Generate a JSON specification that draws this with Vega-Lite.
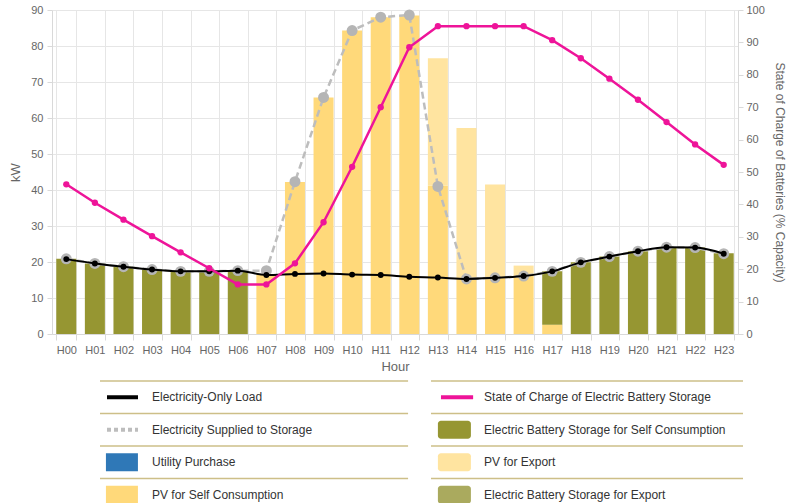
{
  "$schema": "https://vega.github.io/schema/vega-lite/v6.json",
  "background": "white",
  "padding": {"left": 9, "top": 4, "right": 0, "bottom": 0},
  "config": {
    "font": "Liberation Sans",
    "view": {"stroke": null},
    "axis": {
      "labelColor": "#666666",
      "titleColor": "#666666",
      "labelFontSize": 11,
      "titleFontSize": 13,
      "titleFontWeight": "normal",
      "gridColor": "#e6e6e6",
      "domainColor": "#d9d9d9",
      "tickColor": "#d9d9d9",
      "labelOverlap": false
    }
  },
  "datasets": {
    "bars": [
      {"hour": "H00", "series": "Electric Battery Storage for Self Consumption", "kW": 20.9},
      {"hour": "H01", "series": "Electric Battery Storage for Self Consumption", "kW": 19.6},
      {"hour": "H02", "series": "Electric Battery Storage for Self Consumption", "kW": 18.7},
      {"hour": "H03", "series": "Electric Battery Storage for Self Consumption", "kW": 17.9},
      {"hour": "H04", "series": "Electric Battery Storage for Self Consumption", "kW": 17.4},
      {"hour": "H05", "series": "Electric Battery Storage for Self Consumption", "kW": 17.4},
      {"hour": "H06", "series": "Electric Battery Storage for Self Consumption", "kW": 17.6},
      {"hour": "H07", "series": "PV for Self Consumption", "kW": 16.6},
      {"hour": "H08", "series": "PV for Self Consumption", "kW": 42.2},
      {"hour": "H09", "series": "PV for Self Consumption", "kW": 65.7},
      {"hour": "H10", "series": "PV for Self Consumption", "kW": 84.3},
      {"hour": "H11", "series": "PV for Self Consumption", "kW": 88.0},
      {"hour": "H12", "series": "PV for Self Consumption", "kW": 88.5},
      {"hour": "H13", "series": "PV for Self Consumption", "kW": 41.2},
      {"hour": "H13", "series": "PV for Export", "kW": 35.4},
      {"hour": "H14", "series": "PV for Self Consumption", "kW": 15.5},
      {"hour": "H14", "series": "PV for Export", "kW": 41.7},
      {"hour": "H15", "series": "PV for Self Consumption", "kW": 15.6},
      {"hour": "H15", "series": "PV for Export", "kW": 25.9},
      {"hour": "H16", "series": "PV for Self Consumption", "kW": 16.1},
      {"hour": "H16", "series": "PV for Export", "kW": 2.9},
      {"hour": "H17", "series": "PV for Self Consumption", "kW": 2.6},
      {"hour": "H17", "series": "Electric Battery Storage for Self Consumption", "kW": 14.8},
      {"hour": "H18", "series": "Electric Battery Storage for Self Consumption", "kW": 19.9},
      {"hour": "H19", "series": "Electric Battery Storage for Self Consumption", "kW": 21.5},
      {"hour": "H20", "series": "Electric Battery Storage for Self Consumption", "kW": 23.0},
      {"hour": "H21", "series": "Electric Battery Storage for Self Consumption", "kW": 24.1},
      {"hour": "H22", "series": "Electric Battery Storage for Self Consumption", "kW": 24.0},
      {"hour": "H23", "series": "Electric Battery Storage for Self Consumption", "kW": 22.4}
    ],
    "lines": [
      {"hour": "H00", "load": 20.8, "storage": 20.9, "soc": 46.2},
      {"hour": "H01", "load": 19.6, "storage": 19.6, "soc": 40.5},
      {"hour": "H02", "load": 18.7, "storage": 18.7, "soc": 35.3},
      {"hour": "H03", "load": 17.9, "storage": 17.9, "soc": 30.2},
      {"hour": "H04", "load": 17.4, "storage": 17.4, "soc": 25.2},
      {"hour": "H05", "load": 17.4, "storage": 17.4, "soc": 20.3},
      {"hour": "H06", "load": 17.6, "storage": 17.6, "soc": 15.3},
      {"hour": "H07", "load": 16.4, "storage": 17.6, "soc": 15.3},
      {"hour": "H08", "load": 16.7, "storage": 42.3, "soc": 21.8},
      {"hour": "H09", "load": 16.8, "storage": 65.7, "soc": 34.5},
      {"hour": "H10", "load": 16.5, "storage": 84.3, "soc": 51.6},
      {"hour": "H11", "load": 16.4, "storage": 88.0, "soc": 70.0},
      {"hour": "H12", "load": 15.9, "storage": 88.6, "soc": 88.5},
      {"hour": "H13", "load": 15.7, "storage": 41.0, "soc": 95.0},
      {"hour": "H14", "load": 15.3, "storage": 15.3, "soc": 95.0},
      {"hour": "H15", "load": 15.6, "storage": 15.6, "soc": 95.0},
      {"hour": "H16", "load": 16.1, "storage": 16.1, "soc": 95.0},
      {"hour": "H17", "load": 17.4, "storage": 17.4, "soc": 90.7},
      {"hour": "H18", "load": 19.9, "storage": 19.9, "soc": 85.1},
      {"hour": "H19", "load": 21.5, "storage": 21.5, "soc": 78.8},
      {"hour": "H20", "load": 23.0, "storage": 23.0, "soc": 72.3},
      {"hour": "H21", "load": 24.1, "storage": 24.1, "soc": 65.4},
      {"hour": "H22", "load": 24.0, "storage": 24.0, "soc": 58.5},
      {"hour": "H23", "load": 22.3, "storage": 22.3, "soc": 52.2}
    ],
    "legendLeft": [
      {"label": "Electricity-Only Load", "row": 1},
      {"label": "Electricity Supplied to Storage", "row": 2},
      {"label": "Utility Purchase", "row": 3},
      {"label": "PV for Self Consumption", "row": 4}
    ],
    "legendRight": [
      {"label": "State of Charge of Electric Battery Storage", "row": 1},
      {"label": "Electric Battery Storage for Self Consumption", "row": 2},
      {"label": "PV for Export", "row": 3},
      {"label": "Electric Battery Storage for Export", "row": 4}
    ]
  },
  "vconcat": [
    {
      "width": 686,
      "height": 324,
      "layer": [
        {
          "encoding": {
            "x": {
              "field": "hour", "type": "ordinal", "title": "Hour",
              "scale": {"paddingInner": 0.3, "paddingOuter": 0.15},
              "axis": {"labelAngle": 0, "grid": true, "tickBand": "extent", "tickSize": 6, "labelPadding": 4, "titlePadding": 5, "labelFontSize": 11}
            }
          },
          "layer": [
            {
              "data": {"name": "bars"},
              "mark": {"type": "bar", "opacity": 1},
              "encoding": {
                "y": {
                  "field": "kW", "type": "quantitative", "stack": "zero", "title": "kW",
                  "scale": {"domain": [0, 90]},
                  "axis": {"title": "kW", "values": [0, 10, 20, 30, 40, 50, 60, 70, 80, 90], "tickCount": 10, "labelOverlap": false, "tickSize": 5, "labelPadding": 4, "titlePadding": 8}
                },
                "color": {
                  "field": "series", "type": "nominal", "legend": null,
                  "scale": {
                    "domain": ["Electricity-Only Load", "Electricity Supplied to Storage", "Utility Purchase", "PV for Self Consumption", "State of Charge of Electric Battery Storage", "Electric Battery Storage for Self Consumption", "PV for Export", "Electric Battery Storage for Export"],
                    "range": ["#000000", "#bdbdbd", "#2f78b7", "#ffd97a", "#ee1499", "#969632", "#ffe4a0", "#aaaa5e"]
                  }
                },
                "order": {"field": "series", "sort": "descending"}
              }
            },
            {
              "data": {"name": "lines"},
              "mark": {"type": "line", "color": "#bdbdbd", "strokeWidth": 2.5, "strokeDash": [7, 4]},
              "encoding": {
                "y": {"field": "storage", "type": "quantitative", "title": "kW", "scale": {"domain": [0, 90]},
                  "axis": {"title": "kW", "values": [0, 10, 20, 30, 40, 50, 60, 70, 80, 90], "tickCount": 10, "labelOverlap": false, "tickSize": 5, "labelPadding": 4, "titlePadding": 8}}
              }
            },
            {
              "data": {"name": "lines"},
              "mark": {"type": "point", "filled": true, "color": "#b5b5b5", "opacity": 1, "size": 120},
              "encoding": {
                "y": {"field": "storage", "type": "quantitative", "title": "kW", "scale": {"domain": [0, 90]},
                  "axis": {"title": "kW", "values": [0, 10, 20, 30, 40, 50, 60, 70, 80, 90], "tickCount": 10, "labelOverlap": false, "tickSize": 5, "labelPadding": 4, "titlePadding": 8}}
              }
            },
            {
              "data": {"name": "lines"},
              "mark": {"type": "line", "color": "#000000", "strokeWidth": 2, "interpolate": "monotone"},
              "encoding": {
                "y": {"field": "load", "type": "quantitative", "title": "kW", "scale": {"domain": [0, 90]},
                  "axis": {"title": "kW", "values": [0, 10, 20, 30, 40, 50, 60, 70, 80, 90], "tickCount": 10, "labelOverlap": false, "tickSize": 5, "labelPadding": 4, "titlePadding": 8}}
              }
            },
            {
              "data": {"name": "lines"},
              "mark": {"type": "point", "filled": true, "color": "#000000", "opacity": 1, "size": 35},
              "encoding": {
                "y": {"field": "load", "type": "quantitative", "title": "kW", "scale": {"domain": [0, 90]},
                  "axis": {"title": "kW", "values": [0, 10, 20, 30, 40, 50, 60, 70, 80, 90], "tickCount": 10, "labelOverlap": false, "tickSize": 5, "labelPadding": 4, "titlePadding": 8}}
              }
            }
          ]
        },
        {
          "data": {"name": "lines"},
          "layer": [
            {"mark": {"type": "line", "color": "#ee1499", "strokeWidth": 2.5}},
            {"mark": {"type": "point", "filled": true, "color": "#ee1499", "opacity": 1, "size": 40}}
          ],
          "encoding": {
            "x": {"field": "hour", "type": "ordinal"},
            "y": {
              "field": "soc", "type": "quantitative",
              "scale": {"domain": [0, 100]},
              "axis": {"orient": "right", "title": "State of Charge of Batteries (% Capacity)", "values": [0, 10, 20, 30, 40, 50, 60, 70, 80, 90, 100], "grid": false, "tickSize": 5, "labelPadding": 3, "titleFontSize": 12, "titlePadding": 8}
            }
          }
        }
      ],
      "resolve": {"scale": {"y": "independent"}}
    },
    {
      "spacing": 0,
      "hconcat": [
        {
          "width": 378,
          "height": 130,
          "data": {"name": "legendLeft"},
          "layer": [
            {
              "mark": {"type": "rule", "color": "#cdbf88", "strokeWidth": 1.5, "opacity": 1},
              "encoding": {
                "y": {"field": "row", "type": "ordinal", "bandPosition": 0, "scale": {"type": "band", "paddingInner": 0, "paddingOuter": 0}, "axis": null},
                "x": {"datum": 0.127, "type": "quantitative", "scale": {"domain": [0, 1]}, "axis": null},
                "x2": {"datum": 0.942}
              }
            },
            {
              "transform": [{"filter": {"field": "label", "oneOf": ["Electricity-Only Load", "Electricity Supplied to Storage"]}}],
              "mark": {"type": "rule", "strokeWidth": 4, "opacity": 1},
              "encoding": {
                "y": {"field": "row", "type": "ordinal", "bandPosition": 0.5},
                "x": {"datum": 0.1455, "type": "quantitative"},
                "x2": {"datum": 0.2275},
                "color": {"field": "label", "type": "nominal", "legend": null},
                "strokeDash": {"field": "label", "type": "nominal", "legend": null, "scale": {"domain": ["Electricity-Only Load", "Electricity Supplied to Storage"], "range": [[1, 0], [4, 3]]}}
              }
            },
            {
              "transform": [{"filter": {"field": "label", "oneOf": ["Utility Purchase", "PV for Self Consumption"]}}],
              "mark": {"type": "tick", "orient": "horizontal", "size": 32, "thickness": 18, "opacity": 1},
              "encoding": {
                "y": {"field": "row", "type": "ordinal", "bandPosition": 0.5},
                "x": {"datum": 0.185, "type": "quantitative"},
                "color": {"field": "label", "type": "nominal", "legend": null}
              }
            },
            {
              "mark": {"type": "text", "align": "left", "baseline": "middle", "fontSize": 12, "color": "#333333"},
              "encoding": {
                "y": {"field": "row", "type": "ordinal", "bandPosition": 0.5},
                "x": {"datum": 0.2646, "type": "quantitative"},
                "text": {"field": "label", "type": "nominal"}
              }
            }
          ]
        },
        {
          "width": 312,
          "height": 130,
          "data": {"name": "legendRight"},
          "layer": [
            {
              "mark": {"type": "rule", "color": "#cdbf88", "strokeWidth": 1.5, "opacity": 1},
              "encoding": {
                "y": {"field": "row", "type": "ordinal", "bandPosition": 0, "scale": {"type": "band", "paddingInner": 0, "paddingOuter": 0}, "axis": null},
                "x": {"datum": 0, "type": "quantitative", "scale": {"domain": [0, 1]}, "axis": null},
                "x2": {"datum": 1}
              }
            },
            {
              "transform": [{"filter": {"field": "label", "oneOf": ["State of Charge of Electric Battery Storage"]}}],
              "mark": {"type": "rule", "strokeWidth": 4, "opacity": 1},
              "encoding": {
                "y": {"field": "row", "type": "ordinal", "bandPosition": 0.5},
                "x": {"datum": 0.032, "type": "quantitative"},
                "x2": {"datum": 0.135},
                "color": {"field": "label", "type": "nominal", "legend": null}
              }
            },
            {
              "transform": [{"filter": {"field": "label", "oneOf": ["Electric Battery Storage for Self Consumption", "PV for Export", "Electric Battery Storage for Export"]}}],
              "mark": {"type": "tick", "orient": "horizontal", "size": 33, "thickness": 18, "cornerRadius": 3, "opacity": 1},
              "encoding": {
                "y": {"field": "row", "type": "ordinal", "bandPosition": 0.5},
                "x": {"datum": 0.075, "type": "quantitative"},
                "color": {"field": "label", "type": "nominal", "legend": null}
              }
            },
            {
              "mark": {"type": "text", "align": "left", "baseline": "middle", "fontSize": 12, "color": "#333333"},
              "encoding": {
                "y": {"field": "row", "type": "ordinal", "bandPosition": 0.5},
                "x": {"datum": 0.17, "type": "quantitative"},
                "text": {"field": "label", "type": "nominal"}
              }
            }
          ]
        }
      ]
    }
  ],
  "spacing": 7
}
